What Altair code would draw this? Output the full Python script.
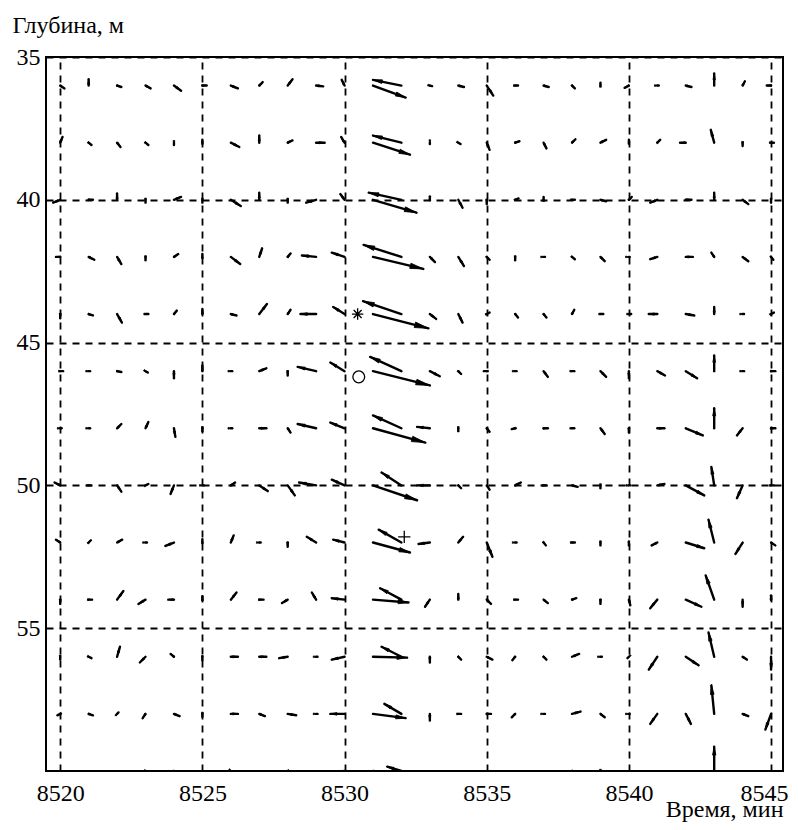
import math
import altair as alt
import pandas as pd

# ---- data -----------------------------------------------------------------
TIMES = list(range(8520, 8546))          # minutes (x grid of the vectors)
DEPTHS = list(range(36, 61, 2))          # metres (y grid of the vectors)

# time-axis component and depth component of each arrow,
# one list per depth row, one value per time column (8520 ... 8545)
U = [
    [0.15, 0, 0.15, 0.18, 0.25, 0.15, 0.25, 0.12, 0.17, 0.25, -0.1, 1.15, -1.0, 0.08, 0.2, 0.23, 0.1, 0.18, 0.1, 0, -0.15, 0.05, 0.2, 0, 0.08, -0.15],
    [0.08, 0.1, 0.12, 0.1, 0, 0, 0.3, 0, 0.17, 0.3, -0.12, 1.3, -1.0, 0, 0.08, 0.1, 0.15, 0.1, 0.12, 0.2, 0, 0.1, -0.2, -0.12, 0, 0.1],
    [-0.25, 0.15, 0, 0, 0.25, 0, 0.35, 0, 0, -0.35, -0.15, 1.53, -1.15, 0, 0.15, 0, 0.12, 0, 0.1, 0.2, 0.1, -0.25, 0.2, 0, 0.2, 0],
    [-0.15, 0.2, 0.15, 0, 0.15, 0, 0.33, 0.1, 0.1, -0.5, -0.45, 1.77, -1.33, 0.18, 0.2, 0.1, 0, 0.05, 0.1, 0.15, 0.03, -0.25, 0.25, -0.1, 0.2, 0.08],
    [0, 0.15, 0.17, 0.1, 0.1, 0, 0.2, 0.27, 0.1, -0.55, -0.4, 1.95, -1.35, 0.22, 0.15, 0.1, 0.1, 0.1, 0.08, 0.1, 0.08, -0.3, 0.3, 0, 0.05, 0.1],
    [0.1, 0.05, 0.15, 0.08, 0, 0, 0.05, 0.25, 0, -0.65, -0.5, 2.0, -1.1, 0.35, 0.1, -0.1, 0.05, 0.15, 0.08, 0.2, 0, 0.27, 0.4, 0, 0.05, 0.15],
    [0.05, 0.05, 0.15, 0.1, 0.05, 0, 0.05, 0.25, 0.1, -0.65, -0.5, 1.84, -1.0, -0.45, 0, 0.1, -0.12, 0.15, 0.08, 0.15, 0, 0.25, 0.6, 0, -0.2, 0.15],
    [-0.2, 0.08, 0.15, 0.1, -0.12, 0.05, 0.15, 0.3, 0.25, -0.6, -0.45, 1.55, -0.7, -0.45, 0.1, 0.1, 0.2, 0.1, 0.2, 0, 0.05, 0.25, 0.65, -0.1, -0.2, 0.1],
    [-0.15, 0.08, 0.18, 0.05, -0.3, 0, 0.1, 0.05, 0, -0.33, -0.4, 1.3, -0.8, -0.4, 0.17, 0.2, 0.05, 0.08, 0.1, 0, 0, -0.2, 0.65, -0.2, -0.25, 0.15],
    [0, 0.12, 0.22, -0.25, -0.2, 0, 0.2, 0.15, -0.2, -0.15, -0.45, 1.25, -0.75, -0.17, 0, 0.15, 0.1, 0.15, 0.15, 0, 0.05, -0.25, 0.55, -0.3, 0, 0],
    [0, 0.1, 0.1, -0.2, -0.12, 0, 0.25, 0.25, -0.3, 0.05, -0.45, 1.2, -0.7, 0, 0.1, 0.2, -0.1, 0.1, 0.25, 0.05, -0.05, -0.3, 0.45, -0.2, 0.15, 0],
    [-0.1, 0.15, 0.05, -0.1, 0.2, 0, 0.25, 0.2, 0.3, 0.05, -0.5, 1.15, -0.6, 0, 0.1, 0.15, -0.12, 0.05, 0.3, 0.15, 0.03, -0.25, 0.18, -0.1, 0.2, -0.2],
    [0, 0, 0, 0.1, -0.2, 0, 0.05, 0, -0.1, 0, -0.45, 0.9, -0.5, 0, 0, 0, 0, 0, 0.15, 0, 0, 0, 0, 0, 0, 0],
]
V = [
    [0.1, -0.22, 0.05, 0.1, 0.18, 0, 0.1, -0.12, -0.22, 0.03, -0.2, 0.42, -0.2, 0.02, 0.05, 0.35, 0, 0.05, 0.1, -0.1, 0.08, 0, 0.05, -0.42, -0.15, 0],
    [-0.2, 0.08, 0.15, 0.08, 0.08, -0.1, 0.15, -0.25, -0.08, 0, -0.2, 0.42, -0.25, 0.05, 0.05, 0.25, -0.05, 0.2, -0.12, -0.1, -0.1, -0.1, 0, -0.45, 0.12, 0],
    [0.1, 0, -0.22, 0.1, -0.1, 0.1, 0.22, -0.25, 0.1, 0.1, -0.2, 0.45, -0.25, -0.12, 0.28, 0.15, -0.05, -0.1, 0, 0.05, -0.1, 0.1, 0, -0.25, 0.15, 0.1],
    [0, 0.1, 0.25, 0.12, -0.1, -0.1, 0.25, -0.3, -0.12, -0.05, -0.15, 0.42, -0.42, 0.18, 0.32, 0.1, 0.12, 0, 0.08, 0.15, 0, 0.08, 0, -0.15, 0.15, 0.1],
    [0.15, 0.05, 0.3, 0, -0.12, -0.18, 0.05, -0.35, -0.15, 0, -0.25, 0.5, -0.45, 0.17, 0.3, -0.05, 0.12, 0.12, -0.15, 0, 0, 0, 0.05, -0.25, 0, -0.05],
    [0, 0, 0.03, 0.05, 0.25, -0.2, 0, -0.1, 0.15, -0.15, -0.3, 0.5, -0.5, 0.18, 0.1, 0, 0, 0.2, 0, 0.2, 0.25, 0.15, 0.25, -0.55, 0, 0],
    [0, 0, -0.15, -0.22, 0.3, 0.1, 0, 0, 0.15, -0.15, -0.2, 0.5, -0.45, -0.05, 0.1, 0.12, 0.03, 0, 0, 0.2, 0.15, 0, 0.25, -0.7, 0.25, 0],
    [-0.1, 0, 0.22, -0.05, 0.3, 0, -0.1, 0.2, 0.35, -0.1, -0.2, 0.52, -0.45, 0, 0.1, 0.15, -0.1, 0, 0.05, 0.1, 0, -0.05, 0.35, -0.65, 0.45, 0],
    [-0.1, -0.08, -0.1, 0, 0.12, -0.12, -0.25, 0, 0.15, -0.2, -0.1, 0.35, -0.45, 0.05, -0.2, 0.5, 0, 0.1, 0, 0.1, 0.1, 0.1, 0.2, -0.8, 0.4, 0.1],
    [0.15, 0, -0.3, 0.15, 0, -0.12, -0.25, 0, 0.12, -0.25, -0.05, 0.1, -0.4, 0.25, -0.2, 0.15, 0, 0.12, -0.05, 0.15, 0.2, 0.3, 0.25, -0.85, 0.25, -0.15],
    [0.1, 0.05, -0.35, 0.2, -0.1, 0.12, 0, 0, 0.05, 0, 0.1, 0.03, -0.35, 0.2, 0.1, 0.1, 0.12, 0.1, -0.1, 0, 0.05, 0.45, 0.3, -0.85, 0.1, 0.45],
    [0.05, 0.05, -0.05, 0.15, 0.08, 0.1, 0, 0.08, 0.05, 0, 0, 0.15, -0.35, 0.23, 0, 0, 0.12, 0, -0.08, 0.12, 0, 0.35, 0.35, -1.0, 0.08, 0.55],
    [0, 0, 0, 0.05, 0.05, 0, 0.05, 0, 0.05, 0, 0.05, 0.1, -0.15, 0, 0, 0, 0, 0, 0.05, 0.1, 0, 0, 0, -0.85, 0, 0],
]

MARK_T = [8530.46, 8530.5, 8532.1]
MARK_D = [44.0, 46.2, 51.8]
MARK_KIND = ["star", "circle", "plus"]

X_TICKS = [8520, 8525, 8530, 8535, 8540, 8545]
Y_TICKS = [35, 40, 45, 50, 55]
X_DOMAIN = [8519.5, 8545.42]
Y_DOMAIN = [35, 60]

# ---- layout ----------------------------------------------------------------
PLOT_W, PLOT_H = 737, 714
SX = PLOT_W / (X_DOMAIN[1] - X_DOMAIN[0])
SY = PLOT_H / (Y_DOMAIN[1] - Y_DOMAIN[0])
FONT = "Liberation Serif"

rows = []
for i, d in enumerate(DEPTHS):
    for j, t in enumerate(TIMES):
        u, v = U[i][j], V[i][j]
        if u == 0 and v == 0:
            continue
        px, py = u * SX, v * SY
        length = math.hypot(px, py)
        ang = math.degrees(math.atan2(px, -py)) % 360
        head = min(14.0, 4.0 + 0.18 * length)
        rows.append({"t": t, "d": d, "t2": t + u, "d2": d + v,
                     "ang": ang, "hs": head * head})
df = pd.DataFrame(rows)

markers = pd.DataFrame({"t": MARK_T, "d": MARK_D, "kind": MARK_KIND})

xscale = alt.Scale(domain=X_DOMAIN, nice=False, zero=False)
yscale = alt.Scale(domain=Y_DOMAIN, reverse=True, nice=False, zero=False)

x_axis = alt.Axis(
    values=X_TICKS, format="d", title="Время, мин",
    titleX=PLOT_W, titleY=45, titleAlign="right", titleBaseline="alphabetic",
    titleFont=FONT, titleFontSize=24, titleFontWeight="normal", titleColor="black",
    labelFont=FONT, labelFontSize=24, labelColor="black", labelPadding=10,
    labelOffset=alt.condition("datum.value == 8545", alt.value(-7), alt.value(0)),
    labelFlush=False, labelOverlap=False,
    grid=True, gridColor="black", gridDash=[7, 6], gridWidth=1.8, gridOpacity=1,
    domain=False, ticks=False,
)
y_axis = alt.Axis(
    values=Y_TICKS, format="d", title="Глубина, м",
    titleAngle=0, titleX=-34, titleY=-25, titleAlign="left", titleBaseline="alphabetic",
    titleFont=FONT, titleFontSize=24, titleFontWeight="normal", titleColor="black",
    labelFont=FONT, labelFontSize=24, labelColor="black", labelPadding=6,
    labelFlush=False, labelOverlap=False,
    grid=True, gridColor="black", gridDash=[7, 6], gridWidth=1.8, gridOpacity=1,
    domain=False, ticks=False,
)

shafts = alt.Chart(df).mark_rule(
    color="black", strokeWidth=2.4, strokeCap="round", clip=True
).encode(
    x=alt.X("t:Q", scale=xscale, axis=x_axis),
    y=alt.Y("d:Q", scale=yscale, axis=y_axis),
    x2="t2:Q",
    y2="d2:Q",
)

heads = alt.Chart(df).mark_point(
    shape="M0,0L-0.4,2L0.4,2Z", filled=True, fill="black", stroke="black",
    strokeWidth=0.8, opacity=1, fillOpacity=1, clip=True,
).encode(
    x=alt.X("t2:Q", scale=xscale, axis=x_axis),
    y=alt.Y("d2:Q", scale=yscale, axis=y_axis),
    angle=alt.Angle("ang:Q", scale=None),
    size=alt.Size("hs:Q", scale=None),
)

marks = alt.Chart(markers).mark_point(
    filled=False, color="black", opacity=1, strokeWidth=1.3,
).encode(
    x=alt.X("t:Q", scale=xscale, axis=x_axis),
    y=alt.Y("d:Q", scale=yscale, axis=y_axis),
    shape=alt.Shape(
        "kind:N",
        scale=alt.Scale(
            domain=["star", "circle", "plus"],
            range=[
                "M-1,0L1,0M0,-1L0,1M-0.7,-0.7L0.7,0.7M-0.7,0.7L0.7,-0.7",
                "circle",
                "M-1,0L1,0M0,-1L0,1",
            ],
        ),
        legend=None,
    ),
    size=alt.Size(
        "kind:N",
        scale=alt.Scale(domain=["star", "circle", "plus"], range=[130, 150, 220]),
        legend=None,
    ),
)

chart = (
    alt.layer(shafts, heads, marks)
    .properties(
        width=PLOT_W,
        height=PLOT_H,
        autosize=alt.AutoSizeParams(type="none"),
        padding={"left": 38, "top": 49, "right": 7, "bottom": 51},
        background="white",
    )
    .configure_view(stroke="black", strokeWidth=2)
)

chart.save("out.html", embed_options={"renderer": "svg", "actions": False})
